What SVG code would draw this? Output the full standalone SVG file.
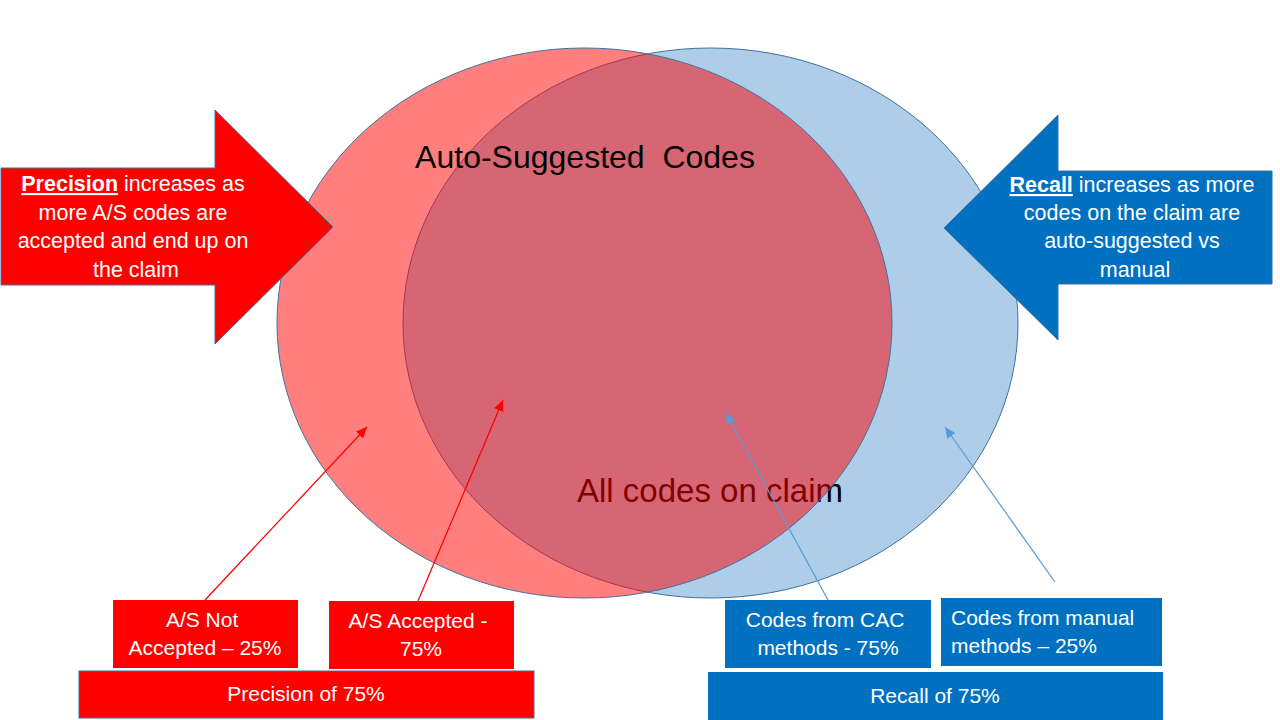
<svg xmlns="http://www.w3.org/2000/svg" width="1280" height="720" viewBox="0 0 1280 720">
  <style>
    text { font-family: "Liberation Sans", Arial, sans-serif; }
    .w { fill: #FFFFFF; font-size: 21px; }
    .wa { fill: #FFFFFF; font-size: 21.5px; }
    .big { fill: #000000; font-size: 32px; white-space: pre; }
    .em { font-weight: bold; text-decoration: underline; }
    .outline { stroke: #41719C; stroke-width: 1; }
    .redbox { fill: #FF0000; }
    .bluebox { fill: #0070C0; }
    .cred { stroke: #FF0000; stroke-width: 1.25; fill: none; }
    .cblue { stroke: #5B9BD5; stroke-width: 1.25; fill: none; }
  </style>
  <defs>
    <marker id="ahRed" markerUnits="userSpaceOnUse" markerWidth="12" markerHeight="10" refX="11" refY="5" orient="auto">
      <path d="M0,0 L11,5 L0,10 z" fill="#FF0000"/>
    </marker>
    <marker id="ahBlue" markerUnits="userSpaceOnUse" markerWidth="12" markerHeight="10" refX="11" refY="5" orient="auto">
      <path d="M0,0 L11,5 L0,10 z" fill="#5B9BD5"/>
    </marker>
  </defs>
  <rect width="1280" height="720" fill="#FFFFFF"/>

  <g id="all-codes-set">
    <ellipse cx="710.5" cy="323" rx="307.5" ry="275" fill="#AECDE9" class="outline"/>
    <text class="big" x="710" y="502" text-anchor="middle" font-size="33" style="font-size:33px">All codes on claim</text>
  </g>

  <g id="auto-suggested-set">
    <ellipse cx="584.5" cy="323" rx="307.5" ry="275" fill="#FF0000" fill-opacity="0.5" class="outline"/>
    <text class="big" x="585" y="168" text-anchor="middle">Auto-Suggested  Codes</text>
  </g>

  <g id="precision-arrow">
    <polygon points="1,168 215,168 215,110 333,227 215,344 215,285 1,285" fill="#FF0000" class="outline"/>
    <text class="wa" text-anchor="middle">
      <tspan x="136" y="191"><tspan class="em">Precision</tspan> increases as</tspan>
      <tspan x="136" y="220">more A/S codes are</tspan>
      <tspan x="136" y="248">accepted and end up on</tspan>
      <tspan x="136" y="277">the claim</tspan>
    </text>
  </g>

  <g id="recall-arrow">
    <polygon points="944,228 1058,115 1058,171 1272,171 1272,284 1058,284 1058,340" fill="#0070C0" class="outline"/>
    <text class="wa" text-anchor="middle">
      <tspan x="1135" y="192"><tspan class="em">Recall</tspan> increases as more</tspan>
      <tspan x="1135" y="220">codes on the claim are</tspan>
      <tspan x="1135" y="248">auto-suggested vs</tspan>
      <tspan x="1135" y="277">manual</tspan>
    </text>
  </g>

  <g id="as-not-accepted">
    <rect class="redbox" x="113" y="600" width="185" height="68"/>
    <text class="w" text-anchor="middle">
      <tspan x="205" y="627">A/S Not</tspan>
      <tspan x="205" y="655">Accepted – 25%</tspan>
    </text>
  </g>

  <g id="as-accepted">
    <rect class="redbox" x="329" y="601" width="185" height="68"/>
    <text class="w" text-anchor="middle">
      <tspan x="421" y="628">A/S Accepted -</tspan>
      <tspan x="421" y="656">75%</tspan>
    </text>
  </g>

  <g id="precision-result">
    <rect class="redbox outline" x="79" y="671" width="455" height="47"/>
    <text class="w" x="306" y="701" text-anchor="middle">Precision of 75%</text>
  </g>

  <g id="codes-cac">
    <rect class="bluebox" x="725" y="600" width="206" height="68"/>
    <text class="w" text-anchor="middle">
      <tspan x="828" y="627">Codes from CAC</tspan>
      <tspan x="828" y="655">methods - 75%</tspan>
    </text>
  </g>

  <g id="codes-manual">
    <rect class="bluebox" x="941" y="598" width="221" height="68"/>
    <text class="w">
      <tspan x="951" y="625">Codes from manual</tspan>
      <tspan x="951" y="653">methods – 25%</tspan>
    </text>
  </g>

  <g id="recall-result">
    <rect class="bluebox" x="708" y="672" width="455" height="48"/>
    <text class="w" x="935" y="703" text-anchor="middle">Recall of 75%</text>
  </g>

  <g id="connectors">
    <line class="cred" x1="205" y1="600" x2="367" y2="427" marker-end="url(#ahRed)"/>
    <line class="cred" x1="418" y1="601" x2="503" y2="400" marker-end="url(#ahRed)"/>
    <line class="cblue" x1="828" y1="600" x2="726" y2="413" marker-end="url(#ahBlue)"/>
    <line class="cblue" x1="1055" y1="582" x2="945" y2="427" marker-end="url(#ahBlue)"/>
  </g>
</svg>
